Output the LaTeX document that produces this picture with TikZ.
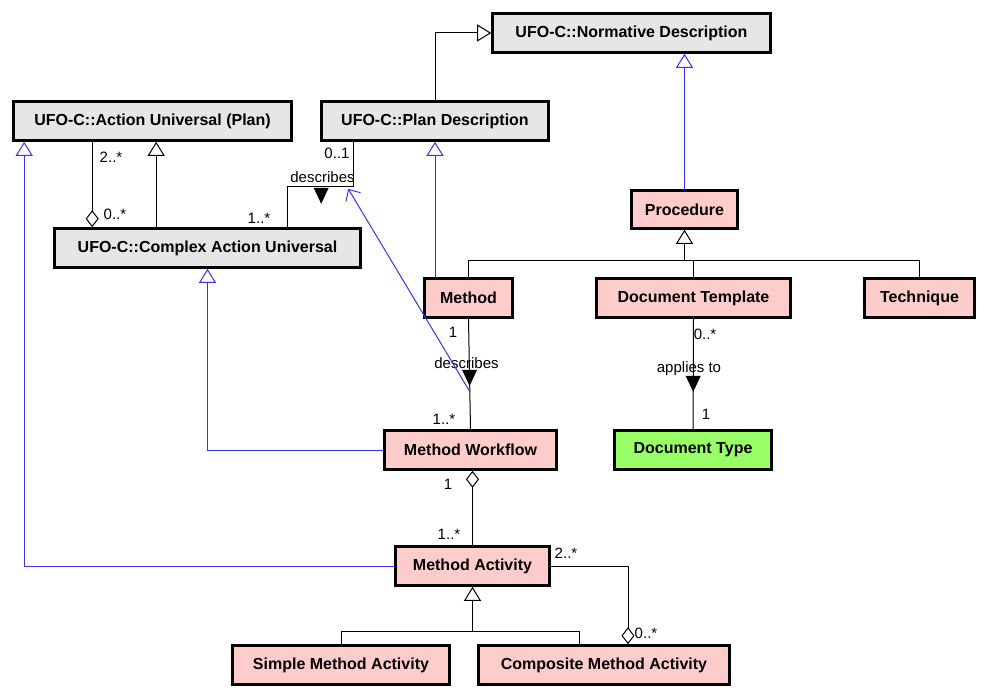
\documentclass[tikz,border=0pt]{standalone}
\usepackage{fontspec}
\setmainfont{Liberation Sans}
\usepackage{xcolor}
\usepackage{tikz}
\usetikzlibrary{arrows.meta,calc}

\definecolor{clsgray}{RGB}{230,230,230}
\definecolor{clspink}{RGB}{255,204,204}
\definecolor{clsgreen}{RGB}{153,255,102}
\definecolor{umlblue}{RGB}{51,51,255}

\begin{document}
\begin{tikzpicture}[x=1bp,y=-1bp,
  cls/.style={draw,line width=2.6bp,fill=clsgray,minimum height=39bp,inner sep=0pt,font=\fontsize{16bp}{19bp}\selectfont\bfseries},
  pinkcls/.style={cls,fill=clspink},
  greencls/.style={cls,fill=clsgreen},
  mult/.style={inner sep=0pt,font=\fontsize{15bp}{18bp}\selectfont},
  assoc/.style={line width=1bp},
  gen/.style={assoc,-{Triangle[open,fill=white,length=14bp,width=17bp]}},
  realize/.style={gen,draw=umlblue},
  aggr/.style={assoc,-{Diamond[open,fill=white,length=17bp,width=13bp]}},
  subs/.style={assoc,draw=umlblue,-{Straight Barb[length=9bp,width=17bp]}},
  dirmark/.pic={\fill (-7.5,-8) -- (7.5,-8) -- (0,8) -- cycle;}]
  \fill[white] (0,0) rectangle (989,700);
  % classes
  \node[cls,minimum width=278bp] (normative) at (631.5,33) {UFO-C::Normative Description};
  \node[cls,minimum width=278bp] (actionu) at (152.5,121) {UFO-C::Action Universal (Plan)};
  \node[cls,minimum width=227bp] (plandesc) at (435,121) {UFO-C::Plan Description};
  \node[cls,minimum width=306bp] (complex) at (207.5,248) {UFO-C::Complex Action Universal};
  \node[pinkcls,minimum width=106bp,minimum height=38bp] (procedure) at (684.5,209.5) {Procedure};
  \node[pinkcls,minimum width=88bp] (method) at (468.5,298) {Method};
  \node[pinkcls,minimum width=194bp] (doctemplate) at (693.5,298) {Document Template};
  \node[pinkcls,minimum width=110bp] (technique) at (919.5,298) {Technique};
  \node[pinkcls,minimum width=172bp] (workflow) at (470.5,450) {Method Workflow};
  \node[greencls,minimum width=157bp] (doctype) at (693,450) {Document Type};
  \node[pinkcls,minimum width=154bp] (activity) at (472.5,566) {Method Activity};
  \node[pinkcls,minimum width=217bp] (simple) at (341,665) {Simple Method Activity};
  \node[pinkcls,minimum width=251bp] (composite) at (604,665) {Composite Method Activity};

  % generalizations
  \draw[gen] (plandesc.north) |- (normative.west);
  \draw[realize] (procedure.north) -- (procedure.north |- normative.south);
  \draw[realize] (plandesc.south |- method.north) -- (plandesc.south);
  \coordinate (cau) at ([xshift=103bp]complex.north west);
  \draw[gen] (cau) -- (cau |- actionu.south);
  \draw[realize] (workflow.west) -| (complex.south);
  \coordinate (aup) at ([xshift=12bp]actionu.south west);
  \draw[realize] (activity.west) -| (aup);

  \coordinate (pbus) at ([yshift=-31bp]procedure.south);
  \draw[assoc] (method.north) |- (pbus) -| (technique.north);
  \draw[assoc] (doctemplate.north) -- (doctemplate.north |- pbus);
  \draw[gen] (pbus) -- (procedure.south);

  \coordinate (abus) at ([yshift=-45bp]activity.south);
  \coordinate (cgen) at ([xshift=102bp]composite.north west);
  \draw[assoc] (simple.north) |- (abus) -| (cgen);
  \draw[gen] (abus) -- (activity.south);

  % associations
  \coordinate (agg1) at ([xshift=80bp]actionu.south west);
  \draw[aggr] (agg1) -- (agg1 |- complex.north);
  \node[mult] at (111,157) {2..*};
  \node[mult] at (115,214) {0..*};

  \coordinate (pdstart) at ([xshift=33bp]plandesc.south west);
  \coordinate (cdend) at ([xshift=80bp]complex.north);
  \draw[assoc] (pdstart) -- ++(0,45) coordinate (pdbend) -| (cdend);
  \pic at ([shift={(-32,9)}]pdbend) {dirmark};
  \node[mult] at (337,153) {0..1};
  \node[mult] at (322.5,177) {describes};
  \node[mult] at (259,218) {1..*};

  \draw[assoc] (method.south) -- (workflow.north);
  \coordinate (descsrc) at ($(method.south)!0.66!(workflow.north)$);
  \pic at ($(method.south)!0.535!(workflow.north)$) {dirmark};
  \node[mult] at (453,332) {1};
  \node[mult] at (466.5,363) {describes};
  \node[mult] at (444,419) {1..*};

  \draw[subs] (descsrc) -- ([shift={(-5,2)}]pdbend);

  \draw[assoc] (doctemplate.south) -- (doctype.north);
  \pic at ($(doctemplate.south)!0.59!(doctype.north)$) {dirmark};
  \node[mult] at (705,334) {0..*};
  \node[mult] at (689,369) {applies to};
  \node[mult] at (706,414) {1};

  \draw[aggr] (activity.north) -- (activity.north |- workflow.south);
  \node[mult] at (448,484) {1};
  \node[mult] at (449,534) {1..*};

  \coordinate (comptop) at ([xshift=24bp]composite.north);
  \draw[aggr] (activity.east) -| (comptop);
  \node[mult] at (566,553) {2..*};
  \node[mult] at (646,633) {0..*};
\end{tikzpicture}
\end{document}
